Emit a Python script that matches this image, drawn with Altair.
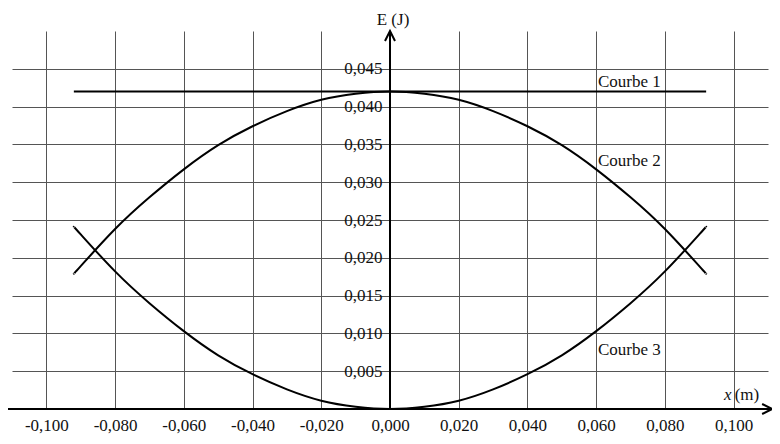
import altair as alt
import pandas as pd

# ---- data ----
x_ticks = [-0.1, -0.08, -0.06, -0.04, -0.02, 0.0, 0.02, 0.04, 0.06, 0.08, 0.1]
y_ticks = [0.005, 0.010, 0.015, 0.020, 0.025, 0.030, 0.035, 0.040, 0.045]

x1 = [-0.092, 0.092]
e1 = [0.042, 0.042]

xs = [-0.092, -0.09, -0.08, -0.07, -0.06, -0.05, -0.04, -0.03, -0.02, -0.01, 0.0,
      0.01, 0.02, 0.03, 0.04, 0.05, 0.06, 0.07, 0.08, 0.09, 0.092]
e2 = [0.0179, 0.0189, 0.0238, 0.0280, 0.0317, 0.0349, 0.0374, 0.0394, 0.0409, 0.0417, 0.0420,
      0.0417, 0.0409, 0.0394, 0.0374, 0.0349, 0.0317, 0.0280, 0.0238, 0.0189, 0.0179]
e3 = [0.0241, 0.0231, 0.0182, 0.0140, 0.0103, 0.0071, 0.0046, 0.0026, 0.0011, 0.0003, 0.0,
      0.0003, 0.0011, 0.0026, 0.0046, 0.0071, 0.0103, 0.0140, 0.0182, 0.0231, 0.0241]

curve_names = ["Courbe 1", "Courbe 2", "Courbe 3"]
label_x = [0.0605, 0.0605, 0.0605]
label_y = [0.0433, 0.0328, 0.0078]

x_dom = [-0.110, 0.110]
y_dom = [0.0, 0.050]

FONT = "Liberation Serif"

rows = []
for x, e in zip(x1, e1):
    rows.append({"x": x, "E": e, "c": "Courbe 1"})
for x, e in zip(xs, e2):
    rows.append({"x": x, "E": e, "c": "Courbe 2"})
for x, e in zip(xs, e3):
    rows.append({"x": x, "E": e, "c": "Courbe 3"})
curves = pd.DataFrame(rows)

lab_expr = "(datum.value < -0.0000001 ? '-' : '') + replace(format(abs(datum.value), '.3f'), '.', ',')"

xscale = alt.Scale(domain=x_dom, nice=False, zero=False)
yscale = alt.Scale(domain=y_dom, nice=False, zero=False)

xaxis = alt.Axis(values=x_ticks, grid=True, gridColor="#555", gridWidth=1, gridOpacity=1,
                 domain=False, ticks=False, labelExpr=lab_expr, labelFont=FONT, labelFontSize=17,
                 labelColor="#111", labelPadding=8, labelFlush=False, title=None)
yaxis = alt.Axis(values=y_ticks, grid=True, gridColor="#555", gridWidth=1, gridOpacity=1,
                 domain=False, ticks=False, labelExpr=lab_expr, labelFont=FONT, labelFontSize=17,
                 labelColor="#111", labelPadding=8, labelFlush=False, title=None, offset=-378)

base = alt.Chart(curves)

lines = base.mark_line(color="black", strokeWidth=2, interpolate="natural").encode(
    x=alt.X("x:Q", scale=xscale, axis=xaxis),
    y=alt.Y("E:Q", scale=yscale, axis=yaxis),
    detail="c:N",
)

# axis lines
axes_df = pd.DataFrame({"x": [-0.1117], "x2": [0.1112], "y": [0.0], "y2": [0.050]})
xline = alt.Chart(axes_df).mark_rule(color="black", strokeWidth=2).encode(
    x=alt.X("x:Q", scale=xscale), x2="x2:Q", y=alt.Y("y:Q", scale=yscale))
yline_df = pd.DataFrame({"x": [0.0], "y": [0.0], "y2": [0.050]})
yline = alt.Chart(yline_df).mark_rule(color="black", strokeWidth=2).encode(
    x=alt.X("x:Q", scale=xscale), y=alt.Y("y:Q", scale=yscale), y2="y2:Q")

up_df = pd.DataFrame({"x": [0.0], "y": [0.050]})
up_arrow = alt.Chart(up_df).mark_point(shape="M-1,2L0,0L1,2", size=100, filled=False,
                                        stroke="black", strokeWidth=2, opacity=1).encode(
    x=alt.X("x:Q", scale=xscale), y=alt.Y("y:Q", scale=yscale))
right_df = pd.DataFrame({"x": [0.1112], "y": [0.0]})
right_arrow = alt.Chart(right_df).mark_point(shape="M-2,-1L0,0L-2,1", size=100, filled=False,
                                              stroke="black", strokeWidth=2, opacity=1).encode(
    x=alt.X("x:Q", scale=xscale), y=alt.Y("y:Q", scale=yscale))

labels_df = pd.DataFrame({"x": label_x, "y": label_y, "t": curve_names})
curve_labels = alt.Chart(labels_df).mark_text(align="left", baseline="middle", font=FONT,
                                               fontSize=17, color="#111").encode(
    x=alt.X("x:Q", scale=xscale), y=alt.Y("y:Q", scale=yscale), text="t:N")

etitle = alt.Chart(pd.DataFrame({"x": [0.0], "y": [0.050], "t": ["E (J)"]})).mark_text(
    align="center", baseline="middle", font=FONT, fontSize=17, color="#111", dx=3, dy=-11).encode(
    x=alt.X("x:Q", scale=xscale), y=alt.Y("y:Q", scale=yscale), text="t:N")

xt_df = pd.DataFrame({"x": [0.1], "y": [0.0], "t": ["x"]})
xtitle1 = alt.Chart(xt_df).mark_text(align="right", baseline="middle", font=FONT, fontSize=17,
                                     fontStyle="italic", color="#111", dx=-2, dy=-14).encode(
    x=alt.X("x:Q", scale=xscale), y=alt.Y("y:Q", scale=yscale), text="t:N")
xt2_df = pd.DataFrame({"x": [0.1], "y": [0.0], "t": ["(m)"]})
xtitle2 = alt.Chart(xt2_df).mark_text(align="left", baseline="middle", font=FONT, fontSize=17,
                                      color="#111", dx=1, dy=-14).encode(
    x=alt.X("x:Q", scale=xscale), y=alt.Y("y:Q", scale=yscale), text="t:N")

chart = alt.layer(lines, xline, yline, up_arrow, right_arrow, curve_labels, etitle, xtitle1, xtitle2).properties(
    width=756, height=378,
    autosize=alt.AutoSizeParams(type="none"),
    padding={"left": 4, "top": 23, "right": 4, "bottom": 30},
    background="white",
).configure_view(stroke=None)

chart.save("out.html", embed_options={"renderer": "svg", "actions": False})
